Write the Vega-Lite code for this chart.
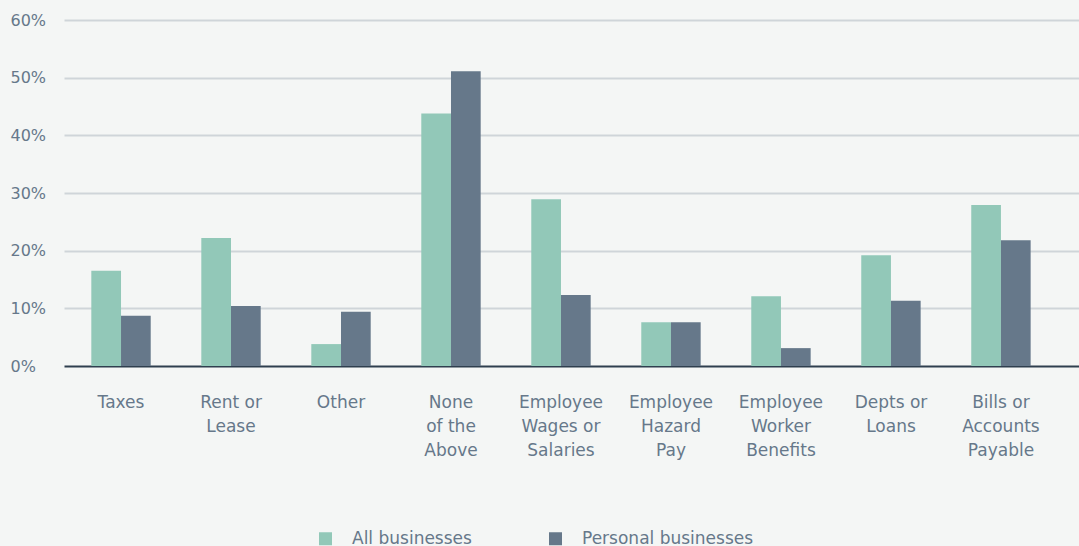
{
  "$schema": "https://vega.github.io/schema/vega-lite/v6.json",
  "width": 1015,
  "height": 346,
  "autosize": {"type": "none"},
  "padding": {"left": 64, "top": 20, "right": 0, "bottom": 180},
  "background": "#f4f6f5",
  "config": {"view": {"stroke": null}, "font": "DejaVu Sans"},
  "data": {
    "values": [
      {"category": "Taxes", "group": "All businesses", "value": 0.165},
      {"category": "Taxes", "group": "Personal businesses", "value": 0.087},
      {"category": "Rent or|Lease", "group": "All businesses", "value": 0.222},
      {"category": "Rent or|Lease", "group": "Personal businesses", "value": 0.104},
      {"category": "Other", "group": "All businesses", "value": 0.038},
      {"category": "Other", "group": "Personal businesses", "value": 0.094},
      {"category": "None|of the|Above", "group": "All businesses", "value": 0.438},
      {"category": "None|of the|Above", "group": "Personal businesses", "value": 0.511},
      {"category": "Employee|Wages or|Salaries", "group": "All businesses", "value": 0.289},
      {"category": "Employee|Wages or|Salaries", "group": "Personal businesses", "value": 0.123},
      {"category": "Employee|Hazard|Pay", "group": "All businesses", "value": 0.076},
      {"category": "Employee|Hazard|Pay", "group": "Personal businesses", "value": 0.076},
      {"category": "Employee|Worker|Benefits", "group": "All businesses", "value": 0.121},
      {"category": "Employee|Worker|Benefits", "group": "Personal businesses", "value": 0.031},
      {"category": "Depts or|Loans", "group": "All businesses", "value": 0.192},
      {"category": "Depts or|Loans", "group": "Personal businesses", "value": 0.113},
      {"category": "Bills or|Accounts|Payable", "group": "All businesses", "value": 0.279},
      {"category": "Bills or|Accounts|Payable", "group": "Personal businesses", "value": 0.218}
    ]
  },
  "mark": {"type": "bar"},
  "encoding": {
    "x": {
      "field": "category",
      "type": "nominal",
      "sort": null,
      "scale": {"paddingInner": 0.46, "paddingOuter": 0.344, "align": 0.361},
      "axis": {
        "title": null,
        "labelAngle": 0,
        "labelExpr": "split(datum.value, '|')",
        "labelFontSize": 17,
        "labelColor": "#66788a",
        "labelPadding": 28,
        "labelBaseline": "top",
        "labelLineHeight": 24,
        "ticks": false,
        "domain": false,
        "labelLimit": 200
      }
    },
    "xOffset": {"field": "group", "sort": ["All businesses", "Personal businesses"]},
    "y": {
      "field": "value",
      "type": "quantitative",
      "scale": {"domain": [0, 0.6], "nice": false},
      "axis": {
        "title": null,
        "format": ".0%",
        "values": [0, 0.1, 0.2, 0.3, 0.4, 0.5, 0.6],
        "domain": false,
        "ticks": false,
        "labelAlign": "left",
        "labelPadding": 54,
        "labelFontSize": 16,
        "labelColor": "#66788a",
        "gridColor": {"condition": {"test": "datum.value === 0", "value": "#2f3f4f"}, "value": "#cfd5d9"},
        "gridWidth": 2
      }
    },
    "color": {
      "field": "group",
      "type": "nominal",
      "scale": {"domain": ["All businesses", "Personal businesses"], "range": ["#92c8b8", "#66788a"]},
      "legend": {
        "title": null,
        "orient": "none",
        "direction": "horizontal",
        "legendX": 253,
        "legendY": 510,
        "symbolType": "square",
        "symbolSize": 169,
        "symbolStrokeWidth": 0,
        "labelFontSize": 17,
        "labelColor": "#66788a",
        "labelOffset": 18,
        "labelLimit": 400,
        "columnPadding": 75
      }
    }
  }
}
